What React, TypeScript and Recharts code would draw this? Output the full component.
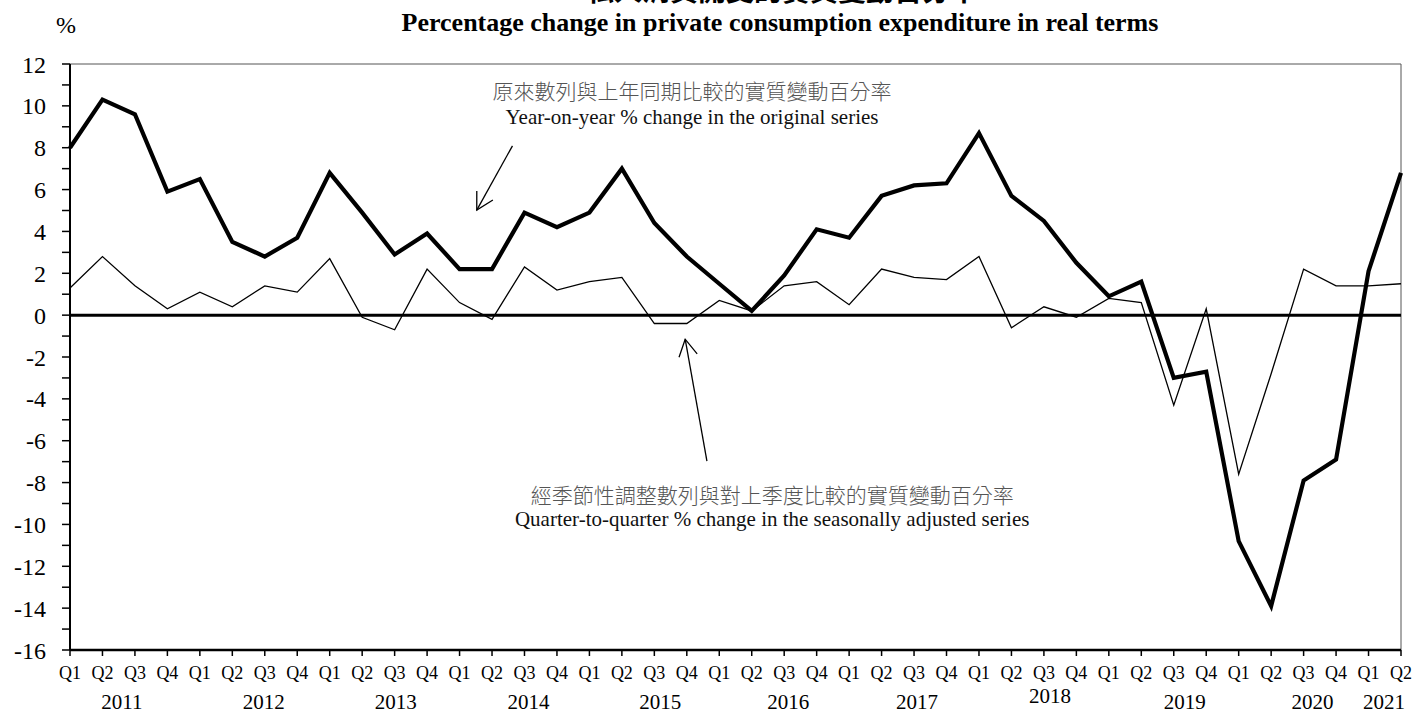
import React from 'react';
import { LineChart, Line, XAxis, YAxis, ReferenceLine, ReferenceDot } from 'recharts';

// ---------- data ----------
const years = ['2011', '2012', '2013', '2014', '2015', '2016', '2017', '2018', '2019', '2020', '2021'];
const quarters = [
  'Q1', 'Q2', 'Q3', 'Q4', 'Q1', 'Q2', 'Q3', 'Q4', 'Q1', 'Q2', 'Q3', 'Q4',
  'Q1', 'Q2', 'Q3', 'Q4', 'Q1', 'Q2', 'Q3', 'Q4', 'Q1', 'Q2', 'Q3', 'Q4',
  'Q1', 'Q2', 'Q3', 'Q4', 'Q1', 'Q2', 'Q3', 'Q4', 'Q1', 'Q2', 'Q3', 'Q4',
  'Q1', 'Q2', 'Q3', 'Q4', 'Q1', 'Q2',
];
// Year-on-year % change in the original series
const yoyChange = [
  8.0, 10.3, 9.6, 5.9,
  6.5, 3.5, 2.8, 3.7,
  6.8, 4.9, 2.9, 3.9,
  2.2, 2.2, 4.9, 4.2,
  4.9, 7.0, 4.4, 2.8,
  1.5, 0.2, 1.9, 4.1,
  3.7, 5.7, 6.2, 6.3,
  8.7, 5.7, 4.5, 2.5,
  0.9, 1.6, -3.0, -2.7,
  -10.8, -13.9, -7.9, -6.9,
  2.1, 6.8,
];
// Quarter-to-quarter % change in the seasonally adjusted series
const qoqChange = [
  1.3, 2.8, 1.4, 0.3,
  1.1, 0.4, 1.4, 1.1,
  2.7, -0.1, -0.7, 2.2,
  0.6, -0.2, 2.3, 1.2,
  1.6, 1.8, -0.4, -0.4,
  0.7, 0.2, 1.4, 1.6,
  0.5, 2.2, 1.8, 1.7,
  2.8, -0.6, 0.4, -0.1,
  0.8, 0.6, -4.3, 0.3,
  -7.6, -2.8, 2.2, 1.4,
  1.4, 1.5,
];
const yTicks = [-16, -15, -14, -13, -12, -11, -10, -9, -8, -7, -6, -5, -4, -3, -2, -1, 0, 1, 2, 3, 4, 5, 6, 7, 8, 9, 10, 11, 12];

const titleZh = '私人消費開支的實質變動百分率';
const titleEn = 'Percentage change in private consumption expenditure in real terms';
const yoyLabelZh = '原來數列與上年同期比較的實質變動百分率';
const yoyLabelEn = 'Year-on-year % change in the original series';
const qoqLabelZh = '經季節性調整數列與對上季度比較的實質變動百分率';
const qoqLabelEn = 'Quarter-to-quarter % change in the seasonally adjusted series';

const data = quarters.map((q, i) => ({ idx: i, quarter: q, yoy: yoyChange[i], qoq: qoqChange[i] }));
const xTicks = quarters.map((_, i) => i);

// ---------- layout / style ----------
const SERIF = "'Liberation Serif', 'Times New Roman', serif";
const CJK = "'Noto Sans CJK TC', 'Noto Sans CJK SC', sans-serif";
const Y_LABEL_RIGHT = 46;
// year label placement: anchor tick index + pixel offsets
const yearLabelLayout = [
  { tick: 2, dx: -13, dy: 0 },
  { tick: 6, dx: -1, dy: 0 },
  { tick: 10, dx: 1, dy: 0 },
  { tick: 14, dx: 4, dy: 0 },
  { tick: 18, dx: 6, dy: 0 },
  { tick: 22, dx: 4, dy: 0 },
  { tick: 26, dx: 3, dy: 0 },
  { tick: 30, dx: 6, dy: -6 },
  { tick: 34, dx: 11, dy: 0 },
  { tick: 38, dx: 9, dy: 0 },
  { tick: 41, dx: -17, dy: 0 },
];

const XTick = (props: any) => {
  const { x, y, payload } = props;
  const i = payload.value as number;
  const yl = yearLabelLayout.find((l) => l.tick === i);
  return (
    <g>
      <text x={x} y={y} dy={21} textAnchor="middle" fontSize={18} fontFamily={SERIF} fill="#000">
        {quarters[i]}
      </text>
      {yl && (
        <text x={x + yl.dx} y={y} dy={51 + yl.dy} textAnchor="middle" fontSize={21} fontFamily={SERIF} fill="#000">
          {years[Math.floor(i / 4)]}
        </text>
      )}
    </g>
  );
};

const YTick = (props: any) => {
  const { y, payload } = props;
  if (payload.value % 2 !== 0) return <g />;
  return (
    <text x={Y_LABEL_RIGHT} y={y + 8.5} textAnchor="end" fontSize={24} fontFamily={SERIF} fill="#000">
      {payload.value}
    </text>
  );
};

const ArrowShape = (props: any) => {
  const { x1, y1, x2, y2 } = props;
  if ([x1, y1, x2, y2].some((v) => typeof v !== 'number' || isNaN(v))) return <g />;
  const ang = Math.atan2(y1 - y2, x1 - x2);
  const len = 19;
  const spread = (29 * Math.PI) / 180;
  const ax = x2 + len * Math.cos(ang + spread);
  const ay = y2 + len * Math.sin(ang + spread);
  const bx = x2 + len * Math.cos(ang - spread);
  const by = y2 + len * Math.sin(ang - spread);
  return (
    <g>
      <line x1={x1} y1={y1} x2={x2} y2={y2} stroke="#000" strokeWidth={1.3} />
      <polyline points={`${ax},${ay} ${x2},${y2} ${bx},${by}`} fill="none" stroke="#000" strokeWidth={1.3} />
    </g>
  );
};

const makeLabel = (zh: string, en: string, gap: number) => (props: any) => {
  const { cx, cy } = props;
  if (typeof cx !== 'number' || typeof cy !== 'number') return <g />;
  return (
    <g>
      <text x={cx} y={cy} textAnchor="middle" fontSize={21} fontFamily={CJK} fontWeight={300} fill="#555">
        {zh}
      </text>
      <text x={cx} y={cy + gap} textAnchor="middle" fontSize={21} fontFamily={SERIF} fill="#111">
        {en}
      </text>
    </g>
  );
};

const YoyLabel = makeLabel(yoyLabelZh, yoyLabelEn, 25);
const QoqLabel = makeLabel(qoqLabelZh, qoqLabelEn, 23);

export default function App() {
  return (
    <div style={{ position: 'absolute', left: 0, top: 0, width: 1415, height: 713, background: '#fff' }}>
      <LineChart
        width={1415}
        height={713}
        data={data}
        margin={{ top: 64, right: 14, bottom: 0, left: 0 }}
      >
        <XAxis
          dataKey="idx"
          type="number"
          domain={[0, 41]}
          ticks={xTicks}
          interval={0}
          height={63}
          tickSize={6}
          tickMargin={2}
          axisLine={{ stroke: '#000', strokeWidth: 2.5 }}
          tickLine={{ stroke: '#000', strokeWidth: 1.5 }}
          tick={(p: any) => <XTick {...p} />}
        />
        <YAxis
          type="number"
          domain={[-16, 12]}
          ticks={yTicks}
          interval={0}
          width={70}
          tickSize={8}
          tickMargin={2}
          axisLine={{ stroke: '#000', strokeWidth: 2 }}
          tickLine={{ stroke: '#000', strokeWidth: 1.5 }}
          tick={(p: any) => <YTick {...p} />}
        />
        <ReferenceLine y={12} stroke="#555" strokeWidth={1} />
        <ReferenceLine x={41} stroke="#555" strokeWidth={1} />
        <ReferenceLine y={0} stroke="#000" strokeWidth={3} />
        <Line type="linear" dataKey="qoq" stroke="#000" strokeWidth={1.3} dot={false} activeDot={false} isAnimationActive={false} />
        <Line type="linear" dataKey="yoy" stroke="#000" strokeWidth={4.2} dot={false} activeDot={false} isAnimationActive={false} strokeLinejoin="miter" />
        <ReferenceLine segment={[{ x: 13.63, y: 8.09 }, { x: 12.53, y: 5.02 }]} shape={(p: any) => <ArrowShape {...p} />} />
        <ReferenceLine segment={[{ x: 19.62, y: -6.98 }, { x: 18.95, y: -1.15 }]} shape={(p: any) => <ArrowShape {...p} />} />
        <ReferenceDot x={19.16} y={10.32} r={0} shape={(p: any) => <YoyLabel {...p} />} />
        <ReferenceDot x={21.63} y={-8.98} r={0} shape={(p: any) => <QoqLabel {...p} />} />
      </LineChart>
      <svg width={1415} height={64} style={{ position: 'absolute', left: 0, top: 0, pointerEvents: 'none' }}>
        <text x={782} y={1} textAnchor="middle" fontSize={28} fontFamily={CJK} fontWeight={700} fill="#000">
          {titleZh}
        </text>
        <text x={780} y={31} textAnchor="middle" fontSize={26} fontFamily={SERIF} fontWeight={700} fill="#000">
          {titleEn}
        </text>
        <text x={66} y={33} textAnchor="middle" fontSize={24} fontFamily={SERIF} fill="#000">
          %
        </text>
      </svg>
    </div>
  );
}
